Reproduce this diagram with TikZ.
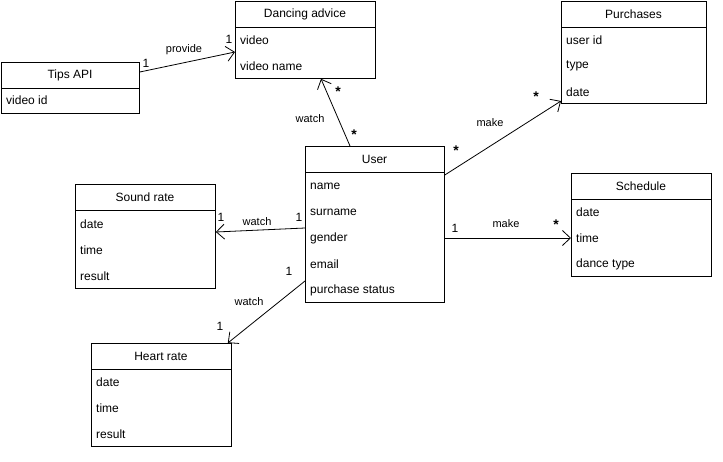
\documentclass[tikz,border=0pt]{standalone}
\usepackage{fontspec}
\setmainfont{Liberation Sans}
\usetikzlibrary{arrows.meta}

\tikzset{
  classbox/.style={draw, line width=0.8pt, anchor=north west, inner sep=0pt},
  classtitle/.style={font=\fontsize{12}{14}\selectfont},
  attr/.style={anchor=west, inner sep=0pt, font=\fontsize{12}{14}\selectfont},
  assoc/.style={line width=0.8pt, -{Straight Barb[length=8pt,width=15pt,line width=0.8pt]}},
  rel/.style={fill=white, inner sep=1pt, font=\fontsize{11}{13}\selectfont},
  mult/.style={inner sep=1pt, font=\fontsize{12}{14}\selectfont},
  many/.style={inner sep=1pt, font=\fontsize{14}{16}\selectfont\bfseries}
}

\begin{document}
\begin{tikzpicture}[x=1pt, y=-1pt]
  \useasboundingbox (0,0) rectangle (723,461);

  % classes
  \node[classbox, minimum width=138pt, minimum height=51pt] (tips) at (1,62) {};
  \draw[line width=0.8pt] (tips.north west) ++(0,26) -- ++(138,0);
  \node[classtitle] (tips-t) at (70,75) {Tips API};
  \node[attr] (tips-1) at (6,100) {video id};

  \node[classbox, minimum width=140pt, minimum height=77pt] (advice) at (235,1) {};
  \draw[line width=0.8pt] (advice.north west) ++(0,26) -- ++(140,0);
  \node[classtitle] (advice-t) at (305,14) {Dancing advice};
  \node[attr] (advice-1) at (240,40) {video};
  \node[attr] (advice-2) at (240,66) {video name};

  \node[classbox, minimum width=145pt, minimum height=102pt] (purch) at (561,1) {};
  \draw[line width=0.8pt] (purch.north west) ++(0,26) -- ++(145,0);
  \node[classtitle] (purch-t) at (633.5,14) {Purchases};
  \node[attr] (purch-1) at (566,40) {user id};
  \node[attr] (purch-2) at (566,66) {type};
  \node[attr] (purch-3) at (566,92) {date};

  \node[classbox, minimum width=139pt, minimum height=156pt] (user) at (305,146) {};
  \draw[line width=0.8pt] (user.north west) ++(0,26) -- ++(139,0);
  \node[classtitle] (user-t) at (374.5,159) {User};
  \node[attr] (user-1) at (310,186) {name};
  \node[attr] (user-2) at (310,212) {surname};
  \node[attr] (user-3) at (310,238) {gender};
  \node[attr] (user-4) at (310,264) {email};
  \node[attr] (user-5) at (310,290) {purchase status};

  \node[classbox, minimum width=140pt, minimum height=104pt] (sound) at (75,184) {};
  \draw[line width=0.8pt] (sound.north west) ++(0,26) -- ++(140,0);
  \node[classtitle] (sound-t) at (145,197) {Sound rate};
  \node[attr] (sound-1) at (80,224) {date};
  \node[attr] (sound-2) at (80,250) {time};
  \node[attr] (sound-3) at (80,276) {result};

  \node[classbox, minimum width=140pt, minimum height=103pt] (sched) at (571,173) {};
  \draw[line width=0.8pt] (sched.north west) ++(0,26) -- ++(140,0);
  \node[classtitle] (sched-t) at (641,186) {Schedule};
  \node[attr] (sched-1) at (576,212) {date};
  \node[attr] (sched-2) at (576,238) {time};
  \node[attr] (sched-3) at (576,264) {dance type};

  \node[classbox, minimum width=140pt, minimum height=103pt] (heart) at (91,343) {};
  \draw[line width=0.8pt] (heart.north west) ++(0,26) -- ++(140,0);
  \node[classtitle] (heart-t) at (161,356) {Heart rate};
  \node[attr] (heart-1) at (96,382) {date};
  \node[attr] (heart-2) at (96,408) {time};
  \node[attr] (heart-3) at (96,434) {result};

  % associations
  \draw[assoc] ([yshift=-10pt]tips.north east) -- ([yshift=-51pt]advice.north west);
  \node[mult] at (146,63) {1};
  \node[rel] at (184,50) {provide};
  \node[mult] at (229,39) {1};

  \draw[assoc] ([xshift=45pt]user.north west) -- ([xshift=86pt]advice.south west);
  \node[rel] at (310,119) {watch};
  \node[many] at (354,135) {*};
  \node[many] at (338,92) {*};

  \draw[assoc] ([yshift=-29pt]user.north east) -- ([yshift=-100pt]purch.north west);
  \node[rel] at (490,123) {make};
  \node[many] at (456,151) {*};
  \node[many] at (536,97) {*};

  \draw[assoc] ([yshift=-92pt]user.north east) -- ([yshift=-65pt]sched.north west);
  \node[mult] at (455,228) {1};
  \node[rel] at (506,224) {make};
  \node[many] at (556,225) {*};

  \draw[assoc] ([yshift=-82pt]user.north west) -- ([yshift=-48pt]sound.north east);
  \node[rel] at (257,222) {watch};
  \node[mult] at (299,217) {1};
  \node[mult] at (221,217) {1};

  \draw[assoc] ([yshift=-135pt]user.north west) -- ([xshift=-4pt]heart.north east);
  \node[mult] at (289,271) {1};
  \node[rel] at (249,302) {watch};
  \node[mult] at (220,326) {1};
\end{tikzpicture}
\end{document}
